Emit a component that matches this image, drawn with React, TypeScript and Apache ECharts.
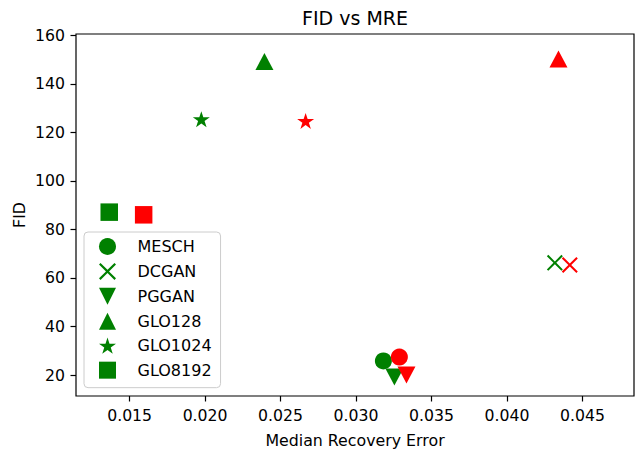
import React, { useEffect, useRef } from 'react';
import * as echarts from 'echarts';

const methods = ['MESCH', 'DCGAN', 'PGGAN', 'GLO128', 'GLO1024', 'GLO8192'];
const greenX = [0.03181, 0.04317, 0.03254, 0.02393, 0.01975, 0.01365];
const greenY = [25.8, 66.2, 19.2, 149.2, 125.4, 87.1];
const redX = [0.03287, 0.04416, 0.03334, 0.04341, 0.02666, 0.01593];
const redY = [27.4, 65.3, 20.0, 150.2, 124.7, 86.0];
const xTicks = [0.015, 0.02, 0.025, 0.03, 0.035, 0.04, 0.045];
const yTicks = [20, 40, 60, 80, 100, 120, 140, 160];
const xLimits = [0.011448, 0.048413];
const yLimits = [11.35, 160.5];

const FONT = '"DejaVu Sans", sans-serif';

function starPath(): string {
  const pts: string[] = [];
  for (let i = 0; i < 10; i++) {
    const r = i % 2 === 0 ? 50 : 50 * 0.381966;
    const a = -Math.PI / 2 + (i * Math.PI) / 5;
    pts.push(`${(50 + r * Math.cos(a)).toFixed(2)},${(50 + r * Math.sin(a)).toFixed(2)}`);
  }
  return 'path://M' + pts.join(' L') + ' Z';
}

const X_PATH = 'path://M0,9 L9,0 L50,41 L91,0 L100,9 L59,50 L100,91 L91,100 L50,59 L9,100 L0,91 L41,50 Z';
const DOWN_TRI = 'path://M0,0 L100,0 L50,100 Z';

const symbols: Record<string, string> = {
  MESCH: 'circle',
  DCGAN: X_PATH,
  PGGAN: DOWN_TRI,
  GLO128: 'triangle',
  GLO1024: starPath(),
  GLO8192: 'rect',
};
const sizes: Record<string, number | number[]> = {
  MESCH: 17,
  DCGAN: 16,
  PGGAN: [18, 17],
  GLO128: [18, 17],
  GLO1024: [17, 16],
  GLO8192: 17.5,
};

export default function App() {
  const ref = useRef<HTMLDivElement>(null);
  useEffect(() => {
    if (!ref.current) return;
    const chart = echarts.init(ref.current, null, { renderer: 'svg' });
    const series: any[] = [];
    methods.forEach((m, i) => {
      series.push({
        name: m,
        type: 'scatter',
        data: [[greenX[i], greenY[i]]],
        symbol: symbols[m],
        symbolSize: sizes[m],
        itemStyle: { color: 'green', opacity: 1 },
        emphasis: { disabled: true },
      });
      series.push({
        name: m + ' (red)',
        type: 'scatter',
        data: [[redX[i], redY[i]]],
        symbol: symbols[m],
        symbolSize: sizes[m],
        itemStyle: { color: 'red', opacity: 1 },
        emphasis: { disabled: true },
      });
    });
    chart.setOption({
      animation: false,
      grid: {
        show: true,
        left: 76,
        top: 34,
        right: 1,
        bottom: 55,
        borderColor: '#000',
        borderWidth: 1.2,
        backgroundColor: '#fff',
      },
      xAxis: {
        type: 'value',
        min: xLimits[0],
        max: xLimits[1],
        axisLine: { show: false },
        splitLine: { show: false },
        axisTick: {
          show: true,
          length: 5.5,
          customValues: xTicks,
          lineStyle: { color: '#000', width: 1.2 },
        },
        axisLabel: {
          customValues: xTicks,
          formatter: (v: number) => v.toFixed(3),
          fontFamily: FONT,
          fontSize: 15.7,
          color: '#000',
          margin: 11.5,
          lineHeight: 16,
        },
      },
      yAxis: {
        type: 'value',
        min: yLimits[0],
        max: yLimits[1],
        axisLine: { show: false },
        splitLine: { show: false },
        axisTick: {
          show: true,
          length: 5.5,
          customValues: yTicks,
          lineStyle: { color: '#000', width: 1.2 },
        },
        axisLabel: {
          customValues: yTicks,
          formatter: (v: number) => String(v),
          fontFamily: FONT,
          fontSize: 15.7,
          color: '#000',
          margin: 11,
        },
      },
      legend: {
        data: methods.map((m) => ({ name: m, icon: symbols[m] })),
        orient: 'vertical',
        left: 84,
        top: 232,
        itemWidth: 17,
        itemHeight: 17,
        itemGap: 7.9,
        padding: [6, 9, 9, 15],
        backgroundColor: 'rgba(255,255,255,0.8)',
        borderColor: '#cccccc',
        borderWidth: 1,
        borderRadius: 4,
        selectedMode: false,
        textStyle: {
          fontFamily: FONT,
          fontSize: 16,
          color: '#000',
          padding: [0, 0, 0, 16.5],
        },
      },
      graphic: [
        {
          type: 'text',
          x: 355,
          y: 18.2,
          style: {
            text: 'FID vs MRE',
            align: 'center',
            verticalAlign: 'middle',
            font: `19px ${FONT}`,
            fill: '#000',
          },
        },
        {
          type: 'text',
          x: 355,
          y: 440,
          style: {
            text: 'Median Recovery Error',
            align: 'center',
            verticalAlign: 'middle',
            font: `15.8px ${FONT}`,
            fill: '#000',
          },
        },
        {
          type: 'text',
          x: 19.7,
          y: 215,
          rotation: Math.PI / 2,
          style: {
            text: 'FID',
            align: 'center',
            verticalAlign: 'middle',
            font: `15.8px ${FONT}`,
            fill: '#000',
          },
        },
      ],
      series,
    });
    return () => chart.dispose();
  }, []);
  return (
    <div
      ref={ref}
      style={{ position: 'fixed', left: 0, top: 0, width: 635, height: 451, background: '#fff' }}
    />
  );
}
